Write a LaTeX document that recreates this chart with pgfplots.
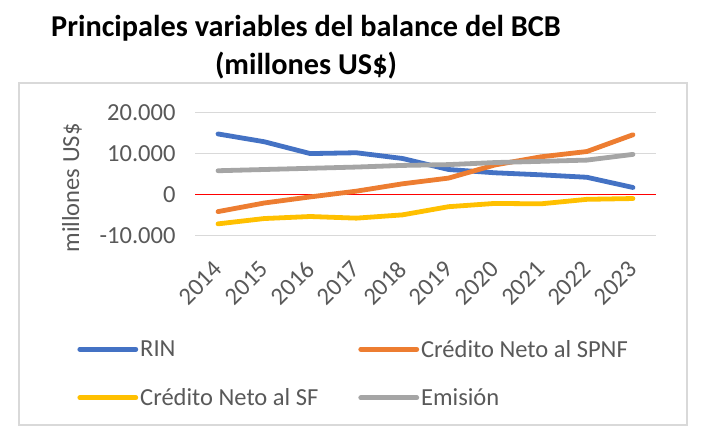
\documentclass[border=0pt]{standalone}
\usepackage{fontspec}
\setmainfont{Carlito}
\usepackage{pgfplots}
\pgfplotsset{compat=1.18}
\definecolor{cblue}{HTML}{4472C4}
\definecolor{corange}{HTML}{ED7D31}
\definecolor{cyellow}{HTML}{FFC000}
\definecolor{cgray}{HTML}{A5A5A5}
\definecolor{gridc}{HTML}{D9D9D9}
\definecolor{txt}{HTML}{595959}
\newcommand{\tickfont}{\fontsize{24.6}{29}\selectfont}
\begin{document}
\begin{tikzpicture}
\useasboundingbox (0,0) rectangle (702bp,-445bp);
\fill[white] (0,0) rectangle (702bp,-445bp);
\draw[gridc, line width=1.3bp] (19bp,-83bp) rectangle (687bp,-425bp);
\node[anchor=base, font=\fontsize{30.4}{36}\selectfont\bfseries] at (306bp,-36bp) {Principales variables del balance del BCB};
\node[anchor=base, font=\fontsize{30.4}{36}\selectfont\bfseries] at (306bp,-74bp) {(millones US\$)};
\begin{axis}[
  at={(195bp,-235.3bp)}, anchor=south west,
  scale only axis, width=461bp, height=122.6bp,
  xmin=-0.5, xmax=9.5, ymin=-10000, ymax=20000,
  scaled y ticks=false,
  axis line style={draw=none},
  major tick style={draw=none},
  xtick={0,...,9},
  xticklabels={2014,2015,2016,2017,2018,2019,2020,2021,2022,2023},
  ytick={-10000,0,10000,20000},
  yticklabels={-10.000,0,10.000,20.000},
  /pgf/number format/assume math mode=true,
  ymajorgrids, grid style={gridc, line width=1.3bp},
  tick label style={font=\tickfont, text=txt},
  yticklabel style={xshift=-16bp},
  xticklabel style={inner sep=0pt, xshift=0bp, yshift=-30bp, rotate=45, anchor=east},
  ylabel={millones US\$},
  ylabel style={at={(axis description cs:-0.267,0.386)}, anchor=center, rotate=0, font=\tickfont, text=txt},
  clip=false,
  legend columns=2,
  legend cell align=left,
  legend image code/.code={\draw[#1, line cap=round] (0bp,0bp) -- (56bp,0bp);},
  legend style={draw=none, fill=none, font=\tickfont, text=txt,
    at={(axis description cs:-0.262,-0.82)}, anchor=north west,
    /tikz/every even column/.append style={column sep=38bp},
    row sep=26bp},
  every axis plot/.append style={line width=4.8bp, line join=round, line cap=round},
]
\draw[red, line width=1.7bp] (axis cs:-0.5,0) -- (axis cs:9.5,0);
\addplot[cblue] coordinates {(0,14800) (1,12900) (2,10000) (3,10200) (4,8800) (5,6100) (6,5300) (7,4800) (8,4200) (9,1700)};
\addlegendentry{RIN}
\addplot[corange] coordinates {(0,-4200) (1,-2100) (2,-600) (3,800) (4,2600) (5,4000) (6,7200) (7,9200) (8,10500) (9,14600)};
\addlegendentry{Crédito Neto al SPNF}
\addplot[cyellow] coordinates {(0,-7200) (1,-5900) (2,-5400) (3,-5800) (4,-5000) (5,-3000) (6,-2200) (7,-2300) (8,-1200) (9,-1000)};
\addlegendentry{Crédito Neto al SF}
\addplot[cgray] coordinates {(0,5800) (1,6100) (2,6400) (3,6700) (4,7100) (5,7300) (6,7800) (7,8100) (8,8400) (9,9800)};
\addlegendentry{Emisión}
\end{axis}
\end{tikzpicture}
\end{document}
